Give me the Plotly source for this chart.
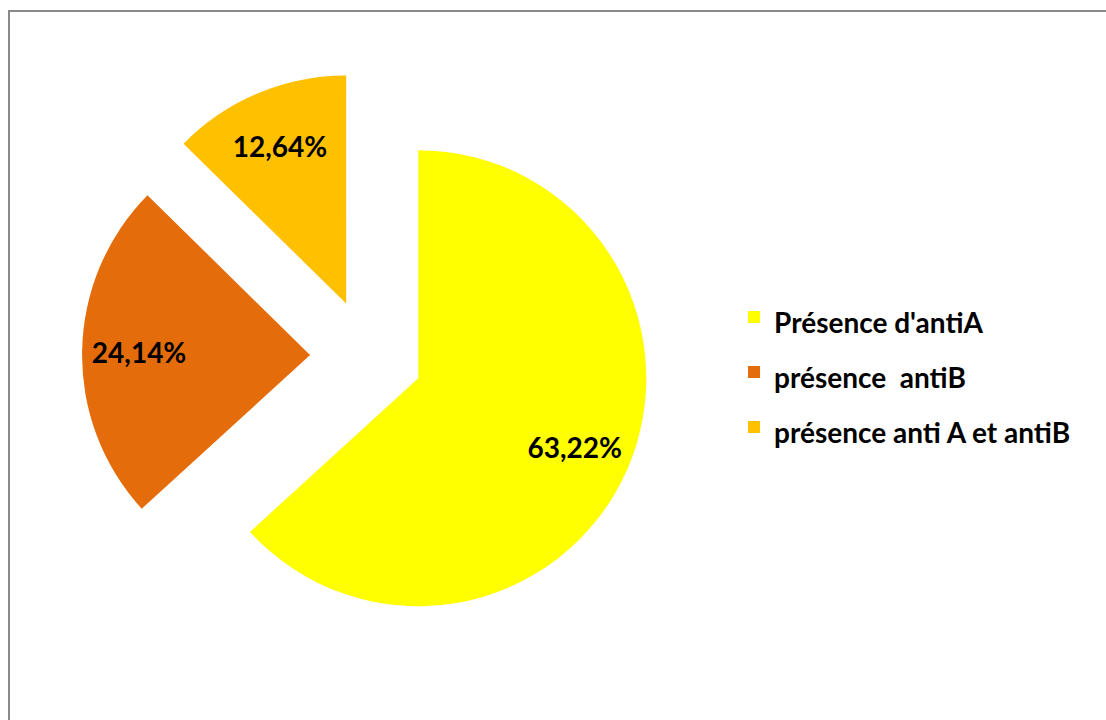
import plotly.graph_objects as go

# Répartition des anticorps irréguliers
labels = ["Présence d'antiA", "présence  antiB", "présence anti A et antiB"]
values = [63.22, 24.14, 12.64]
colors = ["#FFFF00", "#E46C0A", "#FFC000"]
pulls = [0.24, 0.255, 0.25]

W, H = 1106, 720
FONT = "Lato"
LABEL_SIZE = 28
LEGEND_TEXT_SIZE = 28
LEGEND_ROW_SIZE = 40  # sets the row pitch of the legend entries

domain = dict(x=[0.07419, 0.59164], y=[0.10799, 0.90285])
common = dict(
    values=values,
    sort=False,
    direction="clockwise",
    rotation=0,
    pull=pulls,
    domain=domain,
)

legend_labels = [
    f"<span style='font-size:{LEGEND_TEXT_SIZE}px'>{lab}</span>" for lab in labels
]

fig = go.Figure()

# coloured slices (carry the legend)
fig.add_trace(
    go.Pie(
        labels=legend_labels,
        marker=dict(colors=colors, line=dict(width=0)),
        textinfo="none",
        hoverinfo="label+percent",
        **common,
    )
)

# percentage labels, set further out along each slice via a transparent ring
fig.add_trace(
    go.Pie(
        labels=legend_labels,
        hole=0.5,
        marker=dict(colors=["rgba(0,0,0,0)"] * len(values), line=dict(width=0)),
        texttemplate="%{percent:.2%}",
        textposition="inside",
        insidetextorientation="horizontal",
        textfont=dict(family=FONT, size=LABEL_SIZE, color="black", weight="bold"),
        hoverinfo="skip",
        showlegend=False,
        **common,
    )
)

fig.update_layout(
    width=W,
    height=H,
    margin=dict(l=0, r=0, t=0, b=0),
    paper_bgcolor="white",
    plot_bgcolor="white",
    separators=", ",
    showlegend=True,
    legend=dict(
        x=0.6637,
        y=1 - 372 / H,
        xanchor="left",
        yanchor="middle",
        font=dict(family=FONT, size=LEGEND_ROW_SIZE, color="black", weight="bold"),
        bgcolor="rgba(0,0,0,0)",
    ),
    shapes=[
        # chart frame (top and left edges visible, running off the page)
        dict(
            type="rect",
            xref="paper",
            yref="paper",
            x0=9 / W,
            x1=1.02,
            y0=-0.02,
            y1=1 - 11 / H,
            line=dict(color="#898989", width=2),
            fillcolor="rgba(0,0,0,0)",
            layer="above",
        )
    ],
)

fig.write_html("out.html")
